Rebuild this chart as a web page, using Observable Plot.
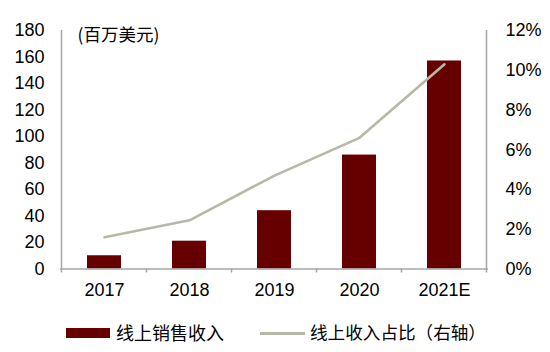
<!DOCTYPE html>
<html>
<head>
<meta charset="utf-8">
<script src="https://cdn.jsdelivr.net/npm/d3@7"></script>
<script src="https://cdn.jsdelivr.net/npm/@observablehq/plot@0.6"></script>
<style>
  html, body { margin: 0; padding: 0; background: #fff; }
  body { width: 550px; height: 352px; overflow: hidden; font-family: "Liberation Sans", "Noto Sans CJK SC", sans-serif; }
  #legend { position: relative; height: 42px; width: 550px; font-size: 18px; color: #000; }
  .sw-bar { position: absolute; left: 66px; top: 18px; width: 44px; height: 10px; background: #660000; }
  .lab1 { position: absolute; left: 116px; top: 11px; line-height: 22px; font-family: "Noto Sans CJK SC", sans-serif; font-size: 18px; }
  .sw-line { position: absolute; left: 260px; top: 22px; width: 45px; height: 3px; background: #b8b8a8; }
  .lab2 { position: absolute; left: 310px; top: 11px; line-height: 22px; font-family: "Noto Sans CJK SC", sans-serif; font-size: 17.6px; }
</style>
</head>
<body>
<div id="chart"></div>
<div id="legend">
  <div class="sw-bar"></div><div class="lab1">线上销售收入</div>
  <div class="sw-line"></div><div class="lab2">线上收入占比（右轴）</div>
</div>
<script>
const years = ["2017", "2018", "2019", "2020", "2021E"];
const revenue = [10, 21, 44, 86, 157];          // 百万美元
const sharePct = [1.6, 2.45, 4.7, 6.6, 10.3];   // %
const leftTicks = [0, 20, 40, 60, 80, 100, 120, 140, 160, 180];
const rightTicks = [0, 2, 4, 6, 8, 10, 12];
const unitLabel = "(百万美元)";

const ratio = 180 / 12; // map right axis (0–12%) onto left axis (0–180)
const data = years.map((y, i) => ({year: y, revenue: revenue[i], share: sharePct[i]}));

const axisColor = "#a6a6a6";
const plot = Plot.plot({
  width: 550,
  height: 310,
  marginLeft: 60,
  marginRight: 62,
  marginTop: 30,
  marginBottom: 41.5,
  style: {fontFamily: '"Liberation Sans", "Noto Sans CJK SC", sans-serif', fontSize: "18px", color: "#000", background: "#fff"},
  x: {domain: years, paddingInner: 0.6, paddingOuter: 0.3, label: null},
  y: {domain: [0, 180], label: null},
  marks: [
    Plot.barY(data, {x: "year", y: "revenue", fill: "#660000"}),
    Plot.ruleY([0], {stroke: axisColor, strokeWidth: 1.5}),
    Plot.line(data, {x: "year", y: d => d.share * ratio, stroke: "#b8b8a8", strokeWidth: 2.6}),
    Plot.axisY({anchor: "left", ticks: leftTicks, tickSize: 0, tickPadding: 16, label: null, fontSize: 18}),
    Plot.axisY({anchor: "right", ticks: rightTicks.map(t => t * ratio), tickFormat: d => `${Math.round(d / ratio)}%`, tickSize: 0, tickPadding: 17, label: null, fontSize: 18}),
    Plot.axisX({tickSize: 0, tickPadding: 14, label: null, fontSize: 18}),
    Plot.text([unitLabel], {frameAnchor: "top-left", lineAnchor: "middle", textAnchor: "start", dx: 17, dy: 5, fontSize: 17.5, fontFamily: '"Noto Sans CJK SC", "Liberation Sans", sans-serif'})
  ]
});
document.getElementById("chart").appendChild(plot);

// Axis lines and category-boundary tick marks, positioned from Plot's scales
const sx = plot.scale("x"), sy = plot.scale("y");
const svg = d3.select(plot);
const yTop = sy.apply(180), yBase = sy.apply(0);
const step = sx.step, bw = sx.bandwidth;
const bounds = years.map(y => sx.apply(y) - (step - bw) / 2);
bounds.push(sx.apply(years[years.length - 1]) + bw + (step - bw) / 2);
const g = svg.append("g").attr("stroke", axisColor).attr("stroke-width", 1.5);
g.append("line").attr("x1", bounds[0]).attr("x2", bounds[0]).attr("y1", yTop).attr("y2", yBase + 4);
g.append("line").attr("x1", bounds[5]).attr("x2", bounds[5]).attr("y1", yTop).attr("y2", yBase + 4);
bounds.slice(1, 5).forEach(b => g.append("line").attr("x1", b).attr("x2", b).attr("y1", yBase).attr("y2", yBase + 4));
</script>
</body>
</html>
